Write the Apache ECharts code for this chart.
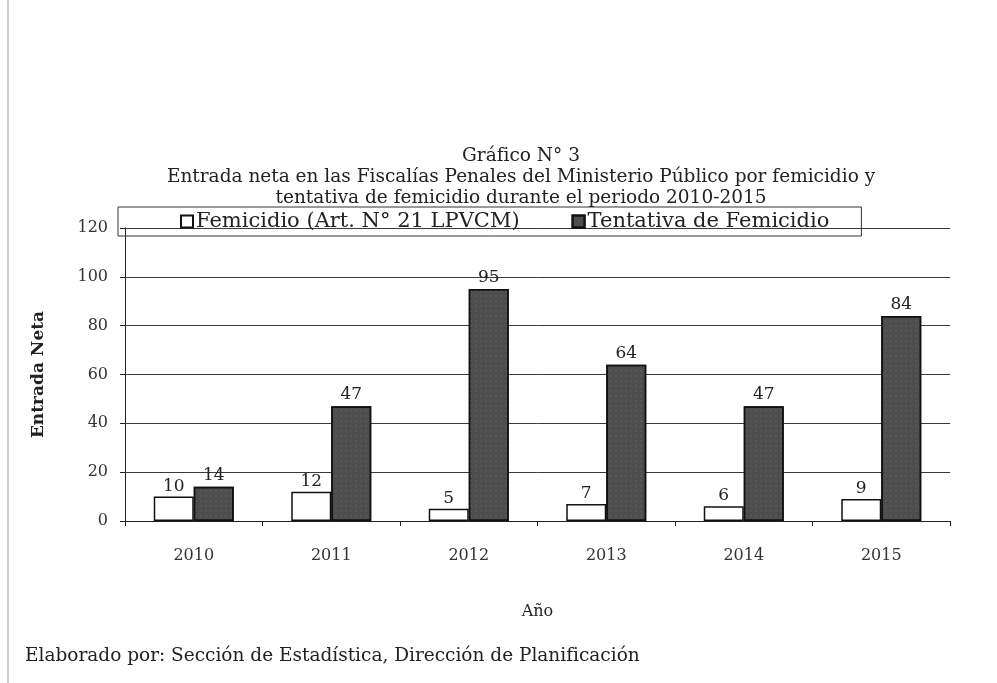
<!DOCTYPE html>
<html lang="es">

<head>
  <meta charset="UTF-8" />
  <title>Gráfico N° 3</title>
  <script src="https://cdn.jsdelivr.net/npm/echarts@6/dist/echarts.min.js"></script>
  <style>
    html, body { margin: 0; padding: 0; background: #fff; }
    #main { width: 997px; height: 683px; }
  </style>
</head>

<body>
  <div id="main"></div>
  <script type="text/javascript">
    // datos
    var years = ['2010', '2011', '2012', '2013', '2014', '2015'];
    var femicidio = [10, 12, 5, 7, 6, 9];
    var tentativa = [14, 47, 95, 64, 47, 84];
    var seriesNames = ['Femicidio (Art. N° 21 LPVCM)', 'Tentativa de Femicidio'];

    var serif = '"DejaVu Serif", "Liberation Serif", serif';
    var myChart = echarts.init(document.getElementById('main'));

    var option = {
      backgroundColor: '#fff',
      animation: false,
      title: [
        {
          text: 'Gráfico N° 3\nEntrada neta en las Fiscalías Penales del Ministerio Público por femicidio y\ntentativa de femicidio durante el periodo 2010-2015',
          left: 516,
          top: 141,
          textAlign: 'center',
          textStyle: {
            fontFamily: serif,
            fontSize: 18.5,
            fontWeight: 'normal',
            color: '#222',
            lineHeight: 21,
            align: 'center'
          }
        },
        {
          text: 'Elaborado por: Sección de Estadística, Dirección de Planificación',
          left: 20,
          top: 642,
          textStyle: {
            fontFamily: serif,
            fontSize: 18.5,
            fontWeight: 'normal',
            color: '#222'
          }
        }
      ],
      legend: {
        data: seriesNames,
        left: 118,
        top: 207,
        padding: [4, 32, 4, 62],
        itemGap: 52,
        itemWidth: 12,
        itemHeight: 12,
        icon: 'rect',
        borderColor: '#333',
        borderWidth: 1,
        textStyle: {
          fontFamily: serif,
          fontSize: 21,
          color: '#222',
          padding: [0, 0, 0, -2]
        }
      },
      grid: {
        left: 125,
        right: 47,
        top: 228,
        bottom: 162
      },
      xAxis: {
        type: 'category',
        data: years,
        name: 'Año',
        nameLocation: 'middle',
        nameGap: 83,
        nameTextStyle: { fontFamily: serif, fontSize: 16, color: '#222' },
        axisLine: { lineStyle: { color: '#222' } },
        axisTick: { show: true, length: 5, lineStyle: { color: '#222' } },
        axisLabel: { fontFamily: serif, fontSize: 16, color: '#333', margin: 27 }
      },
      yAxis: {
        type: 'value',
        min: 0,
        max: 120,
        interval: 20,
        name: 'Entrada Neta',
        nameLocation: 'middle',
        nameGap: 78,
        nameTextStyle: { fontFamily: serif, fontSize: 17, fontWeight: 'bold', color: '#222' },
        axisLine: { show: true, lineStyle: { color: '#222' } },
        axisTick: { show: true, length: 5, lineStyle: { color: '#222' } },
        axisLabel: { fontFamily: serif, fontSize: 16, color: '#333', margin: 17 },
        splitLine: { lineStyle: { color: '#3a3a3a', width: 1 } }
      },
      series: [
        {
          name: seriesNames[0],
          type: 'bar',
          data: femicidio,
          barWidth: 40,
          barGap: '0%',
          itemStyle: { color: '#fff', borderColor: '#111', borderWidth: 1.5 },
          label: {
            show: true,
            position: 'top',
            distance: 2,
            fontFamily: serif,
            fontSize: 17,
            color: '#222'
          }
        },
        {
          name: seriesNames[1],
          type: 'bar',
          data: tentativa,
          barWidth: 40,
          itemStyle: {
            color: '#4d4d4d',
            borderColor: '#111',
            borderWidth: 1.5,
            decal: {
              symbol: 'rect',
              symbolSize: 0.5,
              color: 'rgba(200,200,200,0.35)',
              dashArrayX: [2, 3],
              dashArrayY: [2, 3],
              rotation: 0
            }
          },
          label: {
            show: true,
            position: 'top',
            distance: 3,
            fontFamily: serif,
            fontSize: 17,
            color: '#222'
          }
        }
      ],
      graphic: [
        {
          type: 'line',
          shape: { x1: 8, y1: 0, x2: 8, y2: 683 },
          style: { stroke: '#999', lineWidth: 1 }
        }
      ]
    };

    myChart.setOption(option);
  </script>
</body>

</html>
